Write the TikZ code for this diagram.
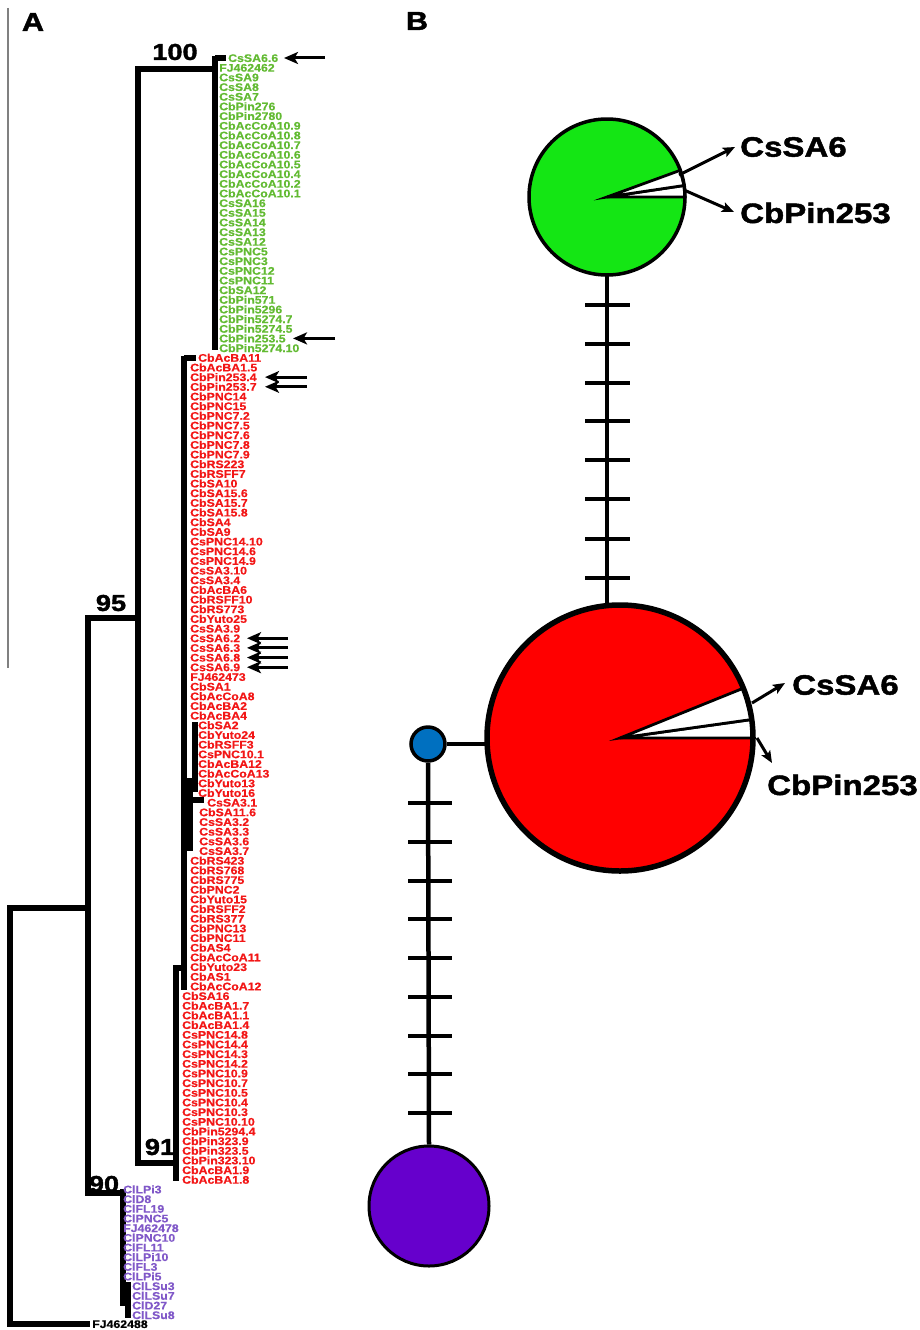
\documentclass[tikz,border=0pt]{standalone}
\usepackage{fontspec}
\setmainfont{Liberation Sans}[FakeStretch=1.2]
\newfontfamily\labfont{Liberation Sans}[FakeStretch=1.12, BoldFeatures={FakeBold=0.5}]
\newfontfamily\heavy{Liberation Sans}[FakeStretch=1.18, BoldFeatures={FakeBold=1.6}]
\usetikzlibrary{arrows.meta}
\definecolor{lgreen}{RGB}{98,186,50}
\definecolor{lred}{RGB}{242,22,22}
\definecolor{lpurple}{RGB}{128,88,200}
\definecolor{cgreen}{RGB}{20,230,20}
\definecolor{cred}{RGB}{255,0,0}
\definecolor{cblue}{RGB}{0,112,192}
\definecolor{cpurple}{RGB}{102,0,204}
\begin{document}
\begin{tikzpicture}[x=1pt,y=-1pt,
  tree/.style={line width=5.5pt, line join=miter},
  lab/.style={anchor=west, inner sep=0pt, font=\labfont\bfseries\fontsize{11}{11}\selectfont, text height=7.9pt, text depth=0pt},
  glab/.style={lab, text=lgreen},
  rlab/.style={lab, text=lred},
  plab/.style={lab, text=lpurple},
  bs/.style={font=\heavy\bfseries\fontsize{23}{24}\selectfont, inner sep=0pt},
  panel/.style={font=\heavy\bfseries\fontsize{26}{28}\selectfont, inner sep=0pt},
  tarr/.style={-{Stealth[length=14pt,width=12pt,inset=3.5pt]}, line width=3pt},
  narr/.style={-{Stealth[length=12pt,width=10pt,inset=2.5pt]}, line width=3pt},
  big/.style={font=\heavy\bfseries\fontsize{28}{30}\selectfont, inner sep=0pt, anchor=west},
  link/.style={line width=4.5pt},
  tickm/.style={line width=4pt},
  wedge/.style={fill=white, line width=2.8pt, line join=miter}
]
\useasboundingbox (0,0) rectangle (919,1330);

% thin gray rule
\draw[gray, line width=1.2pt] (8,8) -- (8,668);

% panel letters
\node[panel] (pA) at (33,22) {A};
\node[panel] (pB) at (417,21) {B};

% ---------- tree ----------
\begin{scope}[tree]
\draw (88,908) -- (10,908) -- (10,1324) -- (90,1324);
\draw (138,618) -- (88,618) -- (88,1193) -- (123,1193);
\draw (215,69) -- (138,69) -- (138,1163) -- (176,1163);
\draw (215,56) -- (215,350);
\draw (215,58) -- (226,58);
\draw (184,968) -- (176,968) -- (176,1181);
\draw (184,356) -- (184,990);
\draw (184,358) -- (196,358);
\draw (184,781) -- (195,781);
\draw (195,722) -- (195,792);
\draw (190,781) -- (190,851);
\draw (190,800) -- (204,800);
\draw (184,843) -- (190,843);
\draw (123,1189) -- (123,1306);
\draw (123,1298) -- (128,1298);
\draw (128,1282) -- (128,1318);
\end{scope}

% bootstrap values
\node[bs] (b100) at (175,52) {100};
\node[bs] (b95) at (111,603) {95};
\node[bs] (b91) at (160,1147) {91};
\node[bs] (b90) at (104,1184) {90};

% green labels
\node[glab] (L0) at (228,58) {CsSA6.6};
\foreach \t [count=\k from 1] in {FJ462462,CsSA9,CsSA8,CsSA7,CbPin276,CbPin2780,CbAcCoA10.9,CbAcCoA10.8,CbAcCoA10.7,CbAcCoA10.6,CbAcCoA10.5,CbAcCoA10.4,CbAcCoA10.2,CbAcCoA10.1,CsSA16,CsSA15,CsSA14,CsSA13,CsSA12,CsPNC5,CsPNC3,CsPNC12,CsPNC11,CbSA12,CbPin571,CbPin5296,CbPin5274.7,CbPin5274.5,CbPin253.5,CbPin5274.10}
  \node[glab] (L\k) at (219,{58+9.67*\k}) {\t};

% red labels
\node[rlab] (L31) at (198,{58+9.67*31}) {CbAcBA11};
\foreach \t [count=\k from 32] in {CbAcBA1.5,CbPin253.4,CbPin253.7,CbPNC14,CbPNC15,CbPNC7.2,CbPNC7.5,CbPNC7.6,CbPNC7.8,CbPNC7.9,CbRS223,CbRSFF7,CbSA10,CbSA15.6,CbSA15.7,CbSA15.8,CbSA4,CbSA9,CsPNC14.10,CsPNC14.6,CsPNC14.9,CsSA3.10,CsSA3.4,CbAcBA6,CbRSFF10,CbRS773,CbYuto25,CsSA3.9,CsSA6.2,CsSA6.3,CsSA6.8,CsSA6.9,FJ462473,CbSA1,CbAcCoA8,CbAcBA2,CbAcBA4}
  \node[rlab] (L\k) at (190,{58+9.67*\k}) {\t};
\foreach \t [count=\k from 69] in {CbSA2,CbYuto24,CbRSFF3,CsPNC10.1,CbAcBA12,CbAcCoA13,CbYuto13,CbYuto16}
  \node[rlab] (L\k) at (198,{58+9.67*\k}) {\t};
\node[rlab] (L77) at (207,{58+9.67*77}) {CsSA3.1};
\foreach \t [count=\k from 78] in {CbSA11.6,CsSA3.2,CsSA3.3,CsSA3.6,CsSA3.7}
  \node[rlab] (L\k) at (199,{58+9.67*\k}) {\t};
\foreach \t [count=\k from 83] in {CbRS423,CbRS768,CbRS775,CbPNC2,CbYuto15,CbRSFF2,CbRS377,CbPNC13,CbPNC11,CbAS4,CbAcCoA11,CbYuto23,CbAS1,CbAcCoA12}
  \node[rlab] (L\k) at (190,{58+9.67*\k}) {\t};
\foreach \t [count=\k from 97] in {CbSA16,CbAcBA1.7,CbAcBA1.1,CbAcBA1.4,CsPNC14.8,CsPNC14.4,CsPNC14.3,CsPNC14.2,CsPNC10.9,CsPNC10.7,CsPNC10.5,CsPNC10.4,CsPNC10.3,CsPNC10.10,CbPin5294.4,CbPin323.9,CbPin323.5,CbPin323.10,CbAcBA1.9,CbAcBA1.8}
  \node[rlab] (L\k) at (182,{58+9.67*\k}) {\t};

% purple labels
\foreach \t [count=\k from 117] in {ClLPi3,ClD8,ClFL19,ClPNC5,FJ462478,ClPNC10,ClFL11,ClLPi10,ClFL3,ClLPi5}
  \node[plab] (L\k) at (123,{58+9.67*\k}) {\t};
\foreach \t [count=\k from 127] in {ClLSu3,ClLSu7,ClD27,ClLSu8}
  \node[plab] (L\k) at (132,{58+9.67*\k}) {\t};
\node[lab] (L131) at (92,1324) {FJ462488};

% leaf arrows
\coordinate (a0) at (325,58);   \coordinate (t0) at (284,58);
\coordinate (a29) at (335,338.4); \coordinate (t29) at (293,338.4);
\draw[tarr] (a0) -- (t0);
\draw[tarr] (a29) -- (t29);
\foreach \k in {33,34} {
  \coordinate (a\k) at (307,{58+9.67*\k});
  \coordinate (t\k) at (265,{58+9.67*\k});
  \draw[tarr] (a\k) -- (t\k);
}
\foreach \k in {60,61,62,63} {
  \coordinate (a\k) at (288,{58+9.67*\k});
  \coordinate (t\k) at (247,{58+9.67*\k});
  \draw[tarr] (a\k) -- (t\k);
}

% ---------- network ----------
\node[circle, fill=cgreen, minimum size=156pt, inner sep=0pt] (G) at (607,197) {};
\node[circle, fill=cred, minimum size=266pt, inner sep=0pt] (R) at (620,738) {};
\node[circle, fill=cblue, draw, line width=3.5pt, minimum size=34pt, inner sep=0pt] (Bl) at (428,744) {};
\node[circle, fill=cpurple, draw, line width=3pt, minimum size=120pt, inner sep=0pt] (P) at (429,1206) {};

% links with mutation ticks
\draw[link] (G.south) -- (G.south |- R.north);
\foreach \yy in {305,344,383,421,460,499,539,578}
  \draw[tickm] (585,\yy) -- (630,\yy);
\draw[link] (Bl.east) -- (Bl.east -| R.west);
\draw[link] (Bl.south) -- (P.north);
\foreach \yy in {803,842,881,919,958,997,1036,1074,1113}
  \draw[tickm] (408,\yy) -- (452,\yy);

% wedges
\filldraw[wedge] (G.center) -- (685,197) -- (684.1,185.5) -- cycle;
\filldraw[wedge] (G.center) -- (684.1,185.5) -- (680.3,170.3) -- cycle;
\filldraw[wedge] (R.center) -- (753,738) -- (751.7,719.5) -- cycle;
\filldraw[wedge] (R.center) -- (751.7,719.5) -- (743.3,688.2) -- cycle;

% outlines
\draw[line width=3.5pt] (G.center) circle[radius=78];
\draw[line width=5.5pt] (R.center) circle[radius=133];

% labels and arrows
\node[big] (gL1) at (740,147) {CsSA6};
\node[big] (gL2) at (740,213) {CbPin253};
\node[big] (rL1) at (792,685) {CsSA6};
\node[big] (rL2) at (767,785) {CbPin253};
\coordinate (ga1) at (679,175);
\coordinate (ga2) at (684,190);
\coordinate (gt1) at (735,147);
\coordinate (gt2) at (734,212);
\coordinate (ra1) at (752,703);
\coordinate (ra2) at (757,738);
\coordinate (rt1) at (785,683);
\coordinate (rt2) at (772,763);
\draw[narr] (ga1) -- (gt1);
\draw[narr] (ga2) -- (gt2);
\draw[narr] (ra1) -- (rt1);
\draw[narr] (ra2) -- (rt2);
\end{tikzpicture}
\end{document}
